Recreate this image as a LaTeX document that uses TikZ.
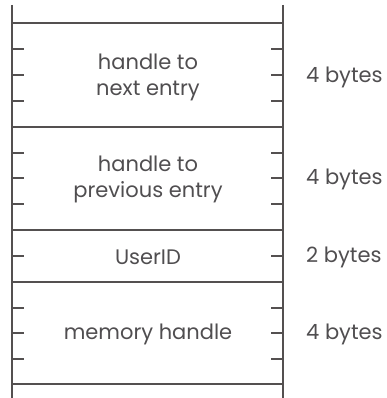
\documentclass[tikz,border=0pt]{standalone}
\usepackage{fontspec}
\setmainfont{Poppins}
\definecolor{ink}{RGB}{84,80,80}
\definecolor{txt}{RGB}{80,78,80}
\tikzset{
  rule/.style={draw=ink, line width=2pt},
  tick/.style={draw=ink, line width=1.7pt},
  field/.style={text=txt, font=\fontsize{21}{26}\selectfont, align=center, inner sep=0pt},
  size/.style={text=txt, font=\fontsize{21}{26}\selectfont, anchor=west, inner sep=0pt}
}
\begin{document}
\begin{tikzpicture}[x=1pt,y=-1pt]
\useasboundingbox (0,0) rectangle (387,398);
% verticals
\draw[rule] (12,5) -- (12,398);
\draw[rule] (283,5) -- (283,398);
% horizontal boundaries
\foreach \y in {23,127,230,282,384} \draw[rule] (12,\y) -- (283,\y);
% ticks
\foreach \y in {49,75,101,153,178,204,256,308,333,359} {
  \draw[tick] (12,\y) -- (24,\y);
  \draw[tick] (271,\y) -- (283,\y);
}
% field labels
\node[field] (f1) at (148,77) {handle to\\next entry};
\node[field] (f2) at (148,179) {handle to\\previous entry};
\node[field] (f3) at (148,257) {UserID};
\node[field] (f4) at (148,334) {memory handle};
% size labels
\node[size] (s1) at (306,77) {4 bytes};
\node[size] (s2) at (306,179) {4 bytes};
\node[size] (s3) at (306,257) {2 bytes};
\node[size] (s4) at (306,334) {4 bytes};
\end{tikzpicture}
\end{document}
